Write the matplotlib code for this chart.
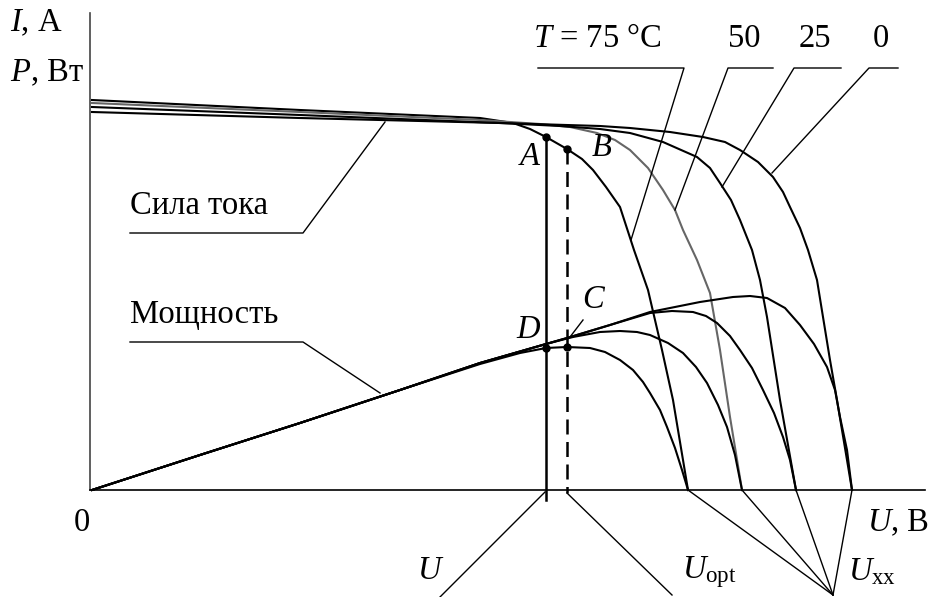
import matplotlib.pyplot as plt

plt.rcParams['font.family'] = ['Liberation Serif', 'DejaVu Serif']
plt.rcParams['mathtext.fontset'] = 'custom'
plt.rcParams['mathtext.rm'] = 'Liberation Serif'
plt.rcParams['mathtext.it'] = 'Liberation Serif:italic'

# вольт-амперные характеристики при разных температурах (условные единицы)
u_75 = [2, 210, 390, 423, 440, 456, 477, 492, 503, 516, 530, 544, 558, 572, 583, 598]
i_75 = [390, 380, 372, 367, 361, 353, 341, 331, 320, 303, 283, 240, 200, 140, 90, 0]
u_50 = [2, 210, 390, 450, 480, 507, 525, 540, 558, 573, 585, 593, 607, 620, 630, 640, 652]
i_50 = [387, 378, 370, 366, 363, 357, 350, 340, 322, 300, 280, 260, 230, 197, 140, 73, 0]
u_25 = [2, 210, 410, 470, 510, 540, 573, 607, 620, 630, 641, 650, 662, 670, 677, 690, 706]
i_25 = [383, 375, 367, 364, 361, 357, 348, 333, 322, 307, 290, 270, 240, 210, 173, 90, 0]
u_0 = [2, 210, 410, 510, 540, 580, 613, 635, 650, 668, 683, 693, 700, 710, 718, 727, 733,
       740, 747, 762]
i_0 = [378, 372, 367, 364, 362, 358, 353, 348, 340, 328, 313, 298, 283, 262, 240, 210, 173,
       130, 90, 0]

# мощность
pu_75 = [2, 110, 210, 310, 390, 430, 456, 477, 500, 515, 530, 543, 553, 560, 570, 577, 585,
         592, 598]
p_75 = [0, 35, 67, 100, 126, 137, 142, 143, 142, 138, 130, 120, 108, 97, 80, 63, 42, 20, 0]
pu_50 = [2, 110, 210, 310, 390, 456, 483, 510, 530, 547, 560, 578, 593, 606, 617, 628, 637,
         645, 652]
p_50 = [0, 35, 67, 100, 127, 146, 153, 158, 159, 158, 155, 147, 137, 123, 107, 85, 63, 35, 0]
pu_25 = [2, 110, 210, 310, 390, 456, 477, 520, 560, 582, 603, 616, 627, 640, 650, 662, 673,
         684, 693, 700, 706]
p_25 = [0, 35, 67, 100, 127, 146, 152, 165, 177, 179, 178, 174, 167, 154, 140, 122, 100, 77,
        53, 30, 0]
pu_0 = [2, 110, 210, 310, 390, 456, 477, 520, 560, 610, 643, 660, 677, 695, 710, 724, 737,
        745, 750, 757, 762]
p_0 = [0, 35, 67, 100, 127, 146, 152, 165, 178, 188, 193, 194, 192, 182, 165, 146, 123, 100,
       73, 40, 0]

u_a = 456      # рабочая точка A / D
u_opt = 477    # оптимальная точка B / C
i_a, i_b = 353, 341
p_d, p_c = 142, 143

fig = plt.figure(figsize=(9.34, 5.97), dpi=100)
ax = fig.add_axes([0, 0, 1, 1])
ax.set_xlim(-90, 844)
ax.set_ylim(-107, 490)
ax.axis('off')

# оси
ax.plot([0, 0], [0, 477], color='#444444', lw=1.2)
ax.plot([0, 835], [0, 0], color='black', lw=1.2)

lw = 1.5
ax.plot(u_75, i_75, color='black', lw=lw)
ax.plot(u_50, i_50, color='#666666', lw=lw)
ax.plot(u_25, i_25, color='black', lw=lw)
ax.plot(u_0, i_0, color='black', lw=lw)
for pu, p in [(pu_75, p_75), (pu_50, p_50), (pu_25, p_25), (pu_0, p_0)]:
    ax.plot(pu, p, color='black', lw=lw)

# вертикали через рабочие точки
ax.plot([u_a, u_a], [i_a, -10], color='black', lw=1.8)
ax.plot([u_opt, u_opt], [i_b, -3], color='black', lw=1.8, dashes=(6, 3))
ax.plot([u_a, u_opt, u_a, u_opt], [i_a, i_b, p_d, p_c], 'o', color='black', ms=5)

# выноски
tl = dict(color='black', lw=1.0)
ax.plot([448, 594, 541], [422, 422, 250], **tl)
ax.plot([683, 638, 585], [422, 422, 280], **tl)
ax.plot([751, 704, 632], [422, 422, 303], **tl)
ax.plot([808, 779, 682], [422, 422, 317], **tl)
ax.plot([40, 213, 295], [257, 257, 368], **tl)
ax.plot([40, 213, 290], [148, 148, 97], **tl)
ax.plot([493, 480], [170, 153], **tl)
ax.plot([455, 350], [-2, -107], **tl)
ax.plot([477, 582], [-3, -105], **tl)
for uoc in [u_75[-1], u_50[-1], u_25[-1], u_0[-1]]:
    ax.plot([uoc, 743], [0, -105], **tl)

fs = 23.5
ax.text(-80, 467, r'$I$, А', fontsize=fs, va='center', ha='left')
ax.text(-80, 417, r'$P$, Вт', fontsize=fs, va='center', ha='left')
ax.text(-8, -33, '0', fontsize=fs, va='center', ha='center')
ax.text(839, -33, r'$U$, В', fontsize=fs, va='center', ha='right')
ax.text(341, -81, r'$U$', fontsize=fs, va='center', ha='center')
ax.text(592, -82, r'$U_{\mathrm{opt}}$', fontsize=fs, va='center', ha='left')
ax.text(758, -82, r'$U_{\mathrm{xx}}$', fontsize=fs, va='center', ha='left')
ax.text(507, 451, r'$T$ = 75 °C', fontsize=fs, va='center', ha='center')
ax.text(654, 451, '50', fontsize=fs, va='center', ha='center')
ax.text(725, 451, '25', fontsize=fs, va='center', ha='center')
ax.text(791, 451, '0', fontsize=fs, va='center', ha='center')
ax.text(40, 284, 'Сила тока', fontsize=fs, va='center', ha='left')
ax.text(40, 175, 'Мощность', fontsize=fs, va='center', ha='left')
ax.text(440, 333, r'$A$', fontsize=fs, va='center', ha='center')
ax.text(512, 342, r'$B$', fontsize=fs, va='center', ha='center')
ax.text(504, 190, r'$C$', fontsize=fs, va='center', ha='center')
ax.text(439, 160, r'$D$', fontsize=fs, va='center', ha='center')

fig.savefig('out.png', dpi=100, facecolor='white')
